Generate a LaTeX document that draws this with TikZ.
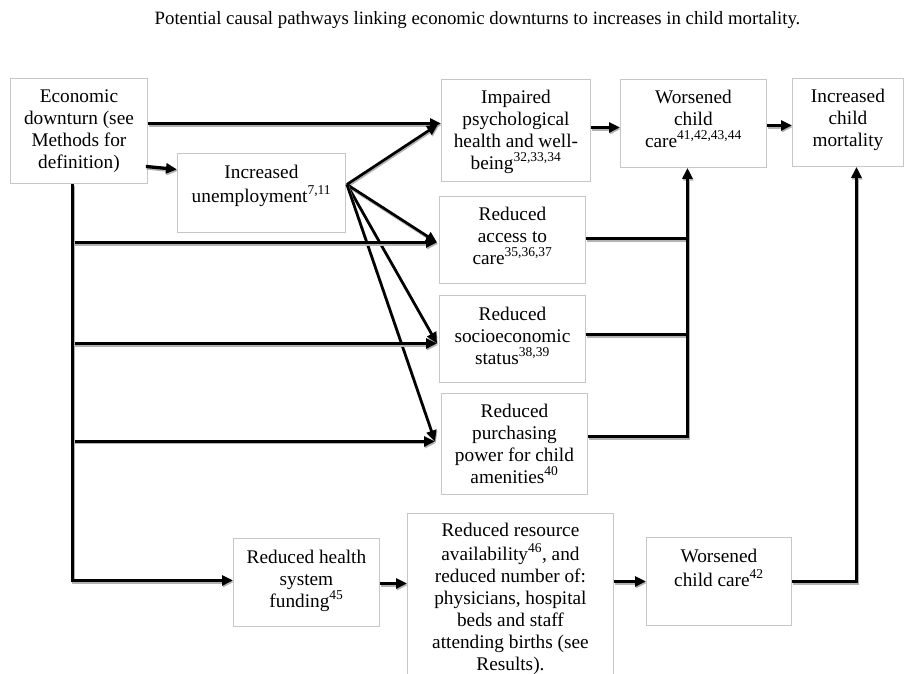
\documentclass[tikz,border=0pt]{standalone}
\usepackage{fontspec}
\setmainfont{Liberation Serif}
\usetikzlibrary{arrows.meta,calc}
\begin{document}
\begin{tikzpicture}[x=1pt,y=-1pt,
  box/.style={draw=black!22, line width=0.9pt, inner sep=0pt, anchor=north west},
  txt/.style={anchor=north, align=center, inner sep=0pt, font=\fontsize{19.3}{22}\selectfont},
  ln/.style={line width=3.3pt, preaction={draw=black!30, line width=3.3pt, transform canvas={shift={(0.8pt,-1.6pt)}}}},
  thin/.style={line width=2.7pt, preaction={draw=black!30, line width=2.7pt, transform canvas={shift={(0.8pt,-1.6pt)}}}},
  arr/.style={ln, -{Triangle[length=11pt,width=10pt]}},
  arrt/.style={thin, -{Triangle[length=11pt,width=10pt]}}
  ]
\useasboundingbox (0,0) rectangle (910,673);
\fill[white] (0,0) rectangle (910,673);
\clip (0,0) rectangle (910,673);

\node[anchor=base, inner sep=0pt, font=\fontsize{18.8}{22}\selectfont] (title) at (477.5,24)
  {Potential causal pathways linking economic downturns to increases in child mortality.};

% boxes
\node[box, minimum width=137pt, minimum height=105pt] (econ) at (10,78) {};
\node[box, minimum width=168pt, minimum height=79pt] (unemp) at (177,153) {};
\node[box, minimum width=149pt, minimum height=102pt] (imp) at (441,79) {};
\node[box, minimum width=146pt, minimum height=88pt] (wcc) at (620,79) {};
\node[box, minimum width=111pt, minimum height=88pt] (mort) at (792,78) {};
\node[box, minimum width=146pt, minimum height=87pt] (acc) at (439,196) {};
\node[box, minimum width=146pt, minimum height=87pt] (soc) at (439,295) {};
\node[box, minimum width=146pt, minimum height=101pt] (pur) at (441,393) {};
\node[box, minimum width=146pt, minimum height=88pt] (fund) at (233,538) {};
\node[box, minimum width=206pt, minimum height=170pt] (res) at (407,513) {};
\node[box, minimum width=145pt, minimum height=88pt] (wcc2) at (646,537) {};

% texts
\node[txt] (econT) at ($(econ.north)+(0,8.6)$) {\strut Economic\\downturn (see\\Methods for\\definition)};
\node[txt] (unempT) at ($(unemp.north)+(0,9.6)$) {\strut Increased\\unemployment\textsuperscript{7,11}};
\node[txt] (impT) at ($(imp.north)+(0,8.6)$) {\strut Impaired\\psychological\\health and well-\\being\textsuperscript{32,33,34}};
\node[txt] (wccT) at ($(wcc.north)+(0,8.6)$) {\strut Worsened\\child\\care\textsuperscript{41,42,43,44}};
\node[txt] (mortT) at ($(mort.north)+(0,8.6)$) {\strut Increased\\child\\mortality};
\node[txt] (accT) at ($(acc.north)+(0,8.6)$) {\strut Reduced\\access to\\care\textsuperscript{35,36,37}};
\node[txt] (socT) at ($(soc.north)+(0,9.6)$) {\strut Reduced\\socioeconomic\\status\textsuperscript{38,39}};
\node[txt] (purT) at ($(pur.north)+(0,8.6)$) {\strut Reduced\\purchasing\\power for child\\amenities\textsuperscript{40}};
\node[txt] (fundT) at ($(fund.north)+(0,9.6)$) {\strut Reduced health\\system\\funding\textsuperscript{45}};
\node[txt] (resT) at ($(res.north)+(0,7.6)$) {\strut Reduced resource\\availability\textsuperscript{46}, and\\reduced number of:\\physicians, hospital\\beds and staff\\attending births (see\\Results).};
\node[txt] (wcc2T) at ($(wcc2.north)+(0,9.6)$) {\strut Worsened\\child care\textsuperscript{42}};

% named points
\coordinate (fan) at ([xshift=1pt,yshift=8.5pt]unemp.east);
\coordinate (impIn) at ([xshift=-3pt,yshift=6pt]imp.west);
\coordinate (accIn) at ([xshift=-2pt,yshift=-2.5pt]acc.west);
\coordinate (socIn) at ([xshift=-2pt,yshift=-4.5pt]soc.west);
\coordinate (purIn) at ([xshift=-6pt,yshift=2.5pt]pur.west);
\coordinate (trunk) at ([xshift=-6.5pt]econ.south);
\coordinate (busTop) at ([xshift=-6pt]wcc.south);
\coordinate (bus2Top) at ([xshift=8.5pt]mort.south);

% connectors
\draw[arr] ([yshift=7.5pt]econ.east) -- ([yshift=7.5pt]econ.east -| imp.west);
\draw[arr] ([xshift=-2pt,yshift=-35.5pt]econ.east) -- ([yshift=23.5pt]unemp.west);

\draw[arrt] (fan) -- (impIn);
\draw[arrt] (fan) -- (accIn);
\draw[arrt] (fan) -- (socIn);
\draw[arrt] (fan) -- (purIn);

\draw[ln] (trunk) -- (trunk |- fund.west);
\draw[arr] (trunk |- accIn) -- (accIn);
\draw[arr] (trunk |- socIn) -- (socIn);
\draw[arrt] (trunk |- purIn) -- (purIn);
\draw[arr] (trunk) |- ([yshift=2pt]fund.west);

\draw[arr] ([yshift=3pt]imp.east) -- ([yshift=3pt]imp.east -| wcc.west);
\draw[arr] ([yshift=-2pt]wcc.east) -- ([yshift=-2pt]wcc.east -| mort.west);

\draw[ln] ([yshift=1.5pt]acc.east) -- ([yshift=1.5pt]acc.east -| busTop);
\draw[ln] ([yshift=4.5pt]soc.east) -- ([yshift=4.5pt]soc.east -| busTop);
\draw[arr] ([yshift=7.5pt]pur.east) -| (busTop);

\draw[arr] ([yshift=-1pt]fund.east) -- ([yshift=-1pt]fund.east -| res.west);
\draw[arr] (res.east |- wcc2.west) -- (wcc2.west);
\draw[arr] (wcc2.east) -| (bus2Top);
\end{tikzpicture}
\end{document}
